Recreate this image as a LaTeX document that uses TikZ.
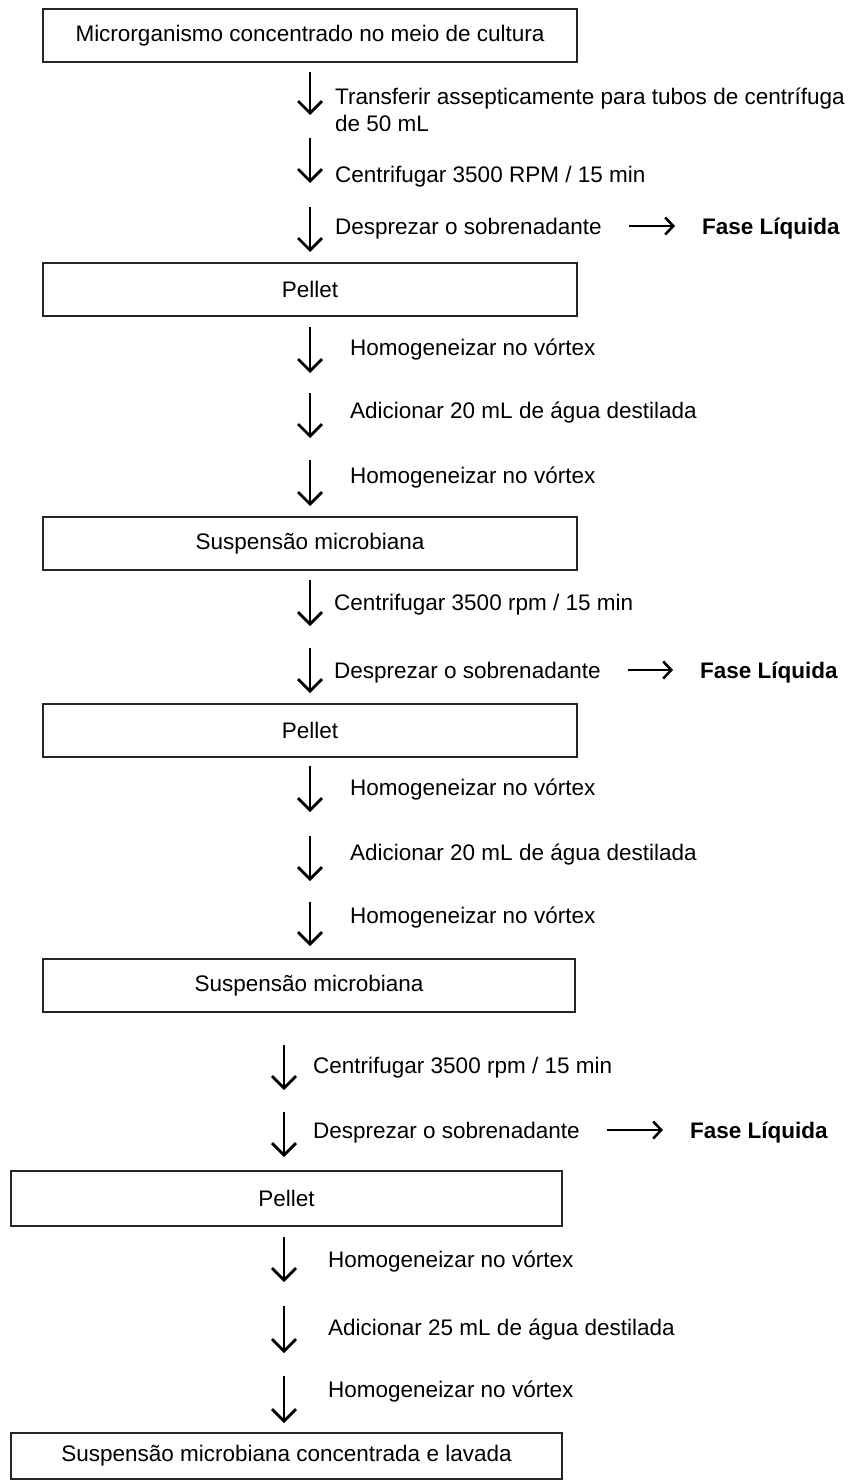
\documentclass[tikz,border=0pt]{standalone}
\usepackage{fontspec}
\setmainfont{Liberation Sans}
\usetikzlibrary{arrows.meta}
\begin{document}
\begin{tikzpicture}[x=1pt,y=-1pt,
  fnt/.style={font=\fontsize{22.5}{27}\selectfont},
  txt/.style={fnt, anchor=west, inner sep=0pt, align=left},
  fase/.style={fnt, font=\fontsize{22.5}{27}\selectfont\bfseries, anchor=west, inner sep=0pt},
  box/.style={fnt, draw=black!85, line width=1.7pt, inner sep=0pt, minimum width=534pt, minimum height=53pt},
  varrow/.style={line width=1.5pt, -{Straight Barb[length=12pt,width=24pt,line width=2.8pt]}},
  harrow/.style={line width=1.8pt, -{Straight Barb[length=8pt,width=17pt,line width=2.6pt]}}
]
\useasboundingbox (0,0) rectangle (859,1482);

% Section 1
\node[box] (b1) at (310,35.5) {Microrganismo concentrado no meio de cultura};
\coordinate (a1s) at (310,72);  \coordinate (a1e) at (310,115);
\coordinate (a2s) at (310,138); \coordinate (a2e) at (310,183);
\coordinate (a3s) at (310,207); \coordinate (a3e) at (310,252);
\node[txt] (t1) at (335,110) {Transferir assepticamente para tubos de centrífuga\\de 50 mL};
\node[txt] (t2) at (335,177) {Centrifugar 3500 RPM / 15 min};
\node[txt] (t3) at (335,229) {Desprezar o sobrenadante};
\node[fase] (f1) at (702,229) {Fase Líquida};
\draw[varrow] (a1s) -- (a1e);
\draw[varrow] (a2s) -- (a2e);
\draw[varrow] (a3s) -- (a3e);
\draw[harrow, shorten <=27pt, shorten >=27pt] ([yshift=3pt]t3.east) -- ([yshift=3pt]f1.west);

% Section 2
\node[box] (b2) at (310,289.5) {Pellet};
\coordinate (a4s) at (310,327); \coordinate (a4e) at (310,373);
\coordinate (a5s) at (310,393); \coordinate (a5e) at (310,438);
\coordinate (a6s) at (310,460); \coordinate (a6e) at (310,506);
\node[txt] (t4) at (350,350) {Homogeneizar no vórtex};
\node[txt] (t5) at (350,413) {Adicionar 20 mL de água destilada};
\node[txt] (t6) at (350,478) {Homogeneizar no vórtex};
\draw[varrow] (a4s) -- (a4e);
\draw[varrow] (a5s) -- (a5e);
\draw[varrow] (a6s) -- (a6e);

% Section 3
\node[box] (b3) at (310,543.5) {Suspensão microbiana};
\coordinate (a7s) at (310,580); \coordinate (a7e) at (310,626);
\coordinate (a8s) at (310,648); \coordinate (a8e) at (310,693);
\node[txt] (t7) at (334,605) {Centrifugar 3500 rpm / 15 min};
\node[txt] (t8) at (334,673) {Desprezar o sobrenadante};
\node[fase] (f2) at (700,673) {Fase Líquida};
\draw[varrow] (a7s) -- (a7e);
\draw[varrow] (a8s) -- (a8e);
\draw[harrow, shorten <=27pt, shorten >=27pt] ([yshift=3pt]t8.east) -- ([yshift=3pt]f2.west);

% Section 4
\node[box] (b4) at (310,730.5) {Pellet};
\coordinate (a9s) at (310,766);  \coordinate (a9e) at (310,812);
\coordinate (a10s) at (310,836); \coordinate (a10e) at (310,881);
\coordinate (a11s) at (310,902); \coordinate (a11e) at (310,946);
\node[txt] (t9) at (350,790) {Homogeneizar no vórtex};
\node[txt] (t10) at (350,855) {Adicionar 20 mL de água destilada};
\node[txt] (t11) at (350,918) {Homogeneizar no vórtex};
\draw[varrow] (a9s) -- (a9e);
\draw[varrow] (a10s) -- (a10e);
\draw[varrow] (a11s) -- (a11e);

% Section 5
\node[box, minimum width=532pt] (b5) at (309,985.5) {Suspensão microbiana};
\coordinate (a12s) at (284,1045); \coordinate (a12e) at (284,1090);
\coordinate (a13s) at (284,1112); \coordinate (a13e) at (284,1157);
\node[txt] (t12) at (313,1068) {Centrifugar 3500 rpm / 15 min};
\node[txt] (t13) at (313,1133) {Desprezar o sobrenadante};
\node[fase] (f3) at (690,1133) {Fase Líquida};
\draw[varrow] (a12s) -- (a12e);
\draw[varrow] (a13s) -- (a13e);
\draw[harrow, shorten <=27pt, shorten >=27pt] ([yshift=3pt]t13.east) -- ([yshift=3pt]f3.west);

% Section 6
\node[box, minimum width=551pt, minimum height=55pt] (b6) at (286.5,1198.5) {Pellet};
\coordinate (a14s) at (284,1237); \coordinate (a14e) at (284,1282);
\coordinate (a15s) at (284,1306); \coordinate (a15e) at (284,1353);
\coordinate (a16s) at (284,1376); \coordinate (a16e) at (284,1423);
\node[txt] (t14) at (328,1262) {Homogeneizar no vórtex};
\node[txt] (t15) at (328,1330) {Adicionar 25 mL de água destilada};
\node[txt] (t16) at (328,1392) {Homogeneizar no vórtex};
\draw[varrow] (a14s) -- (a14e);
\draw[varrow] (a15s) -- (a15e);
\draw[varrow] (a16s) -- (a16e);

\node[box, minimum width=551pt, minimum height=46pt] (b7) at (286.5,1456) {Suspensão microbiana concentrada e lavada};
\end{tikzpicture}
\end{document}
